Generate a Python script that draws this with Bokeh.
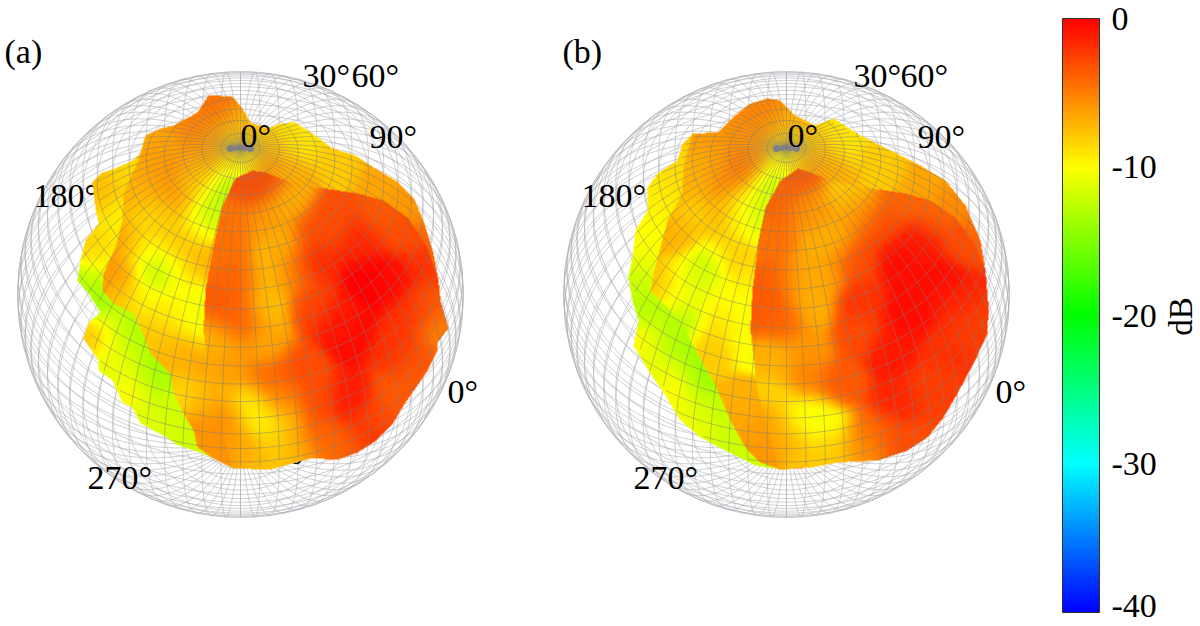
import numpy as np
from bokeh.core.properties import value
from bokeh.embed import file_html
from bokeh.models import ColorBar, FixedTicker, LinearColorMapper
from bokeh.plotting import figure
from bokeh.resources import INLINE

# colour scale
db_ticks = [0, -10, -20, -30, -40]
db_labels = ["0", "-10", "-20", "-30", "-40"]

# sphere centres and radius
a_center = (240, 294)
b_center = (786, 294)
radius = 223

# panel (a): outline of the whole pattern
a_outer_x = [208, 232, 242, 250, 267, 280, 295, 312, 332, 355, 373, 395, 413, 423, 433, 438, 440, 448, 437, 437, 427, 417, 403, 393, 373, 357, 338, 310, 278, 270, 233, 213, 200, 178, 163, 140, 132, 122, 112, 98, 98, 83, 88, 100, 88, 77, 80, 85, 98, 95, 92, 100, 117, 132, 140, 145, 160, 173, 197]
a_outer_y = [95, 96, 108, 122, 128, 123, 122, 133, 148, 155, 167, 180, 197, 220, 253, 280, 300, 328, 342, 350, 370, 385, 405, 422, 442, 452, 459, 458, 462, 469, 468, 458, 452, 445, 435, 423, 407, 402, 380, 370, 360, 338, 322, 312, 293, 280, 260, 240, 223, 207, 182, 173, 167, 160, 152, 135, 128, 125, 112]
a_outer_px = [220, 180, 160, 130, 100, 117, 100, 110, 93, 95, 87, 108, 125, 133, 130, 150, 160, 167, 177, 157, 130, 120, 110, 300, 340, 380, 410, 425, 240, 270]
a_outer_py = [105, 135, 140, 170, 193, 217, 250, 257, 283, 300, 337, 335, 330, 333, 323, 370, 367, 407, 427, 427, 385, 360, 365, 135, 160, 180, 205, 240, 125, 150]
a_outer_db = [-4.5, -6, -8, -8.5, -7.5, -9.5, -8, -10, -12.5, -14, -7.5, -9, -12, -14, -13, -13, -14, -12, -12, -11, -10, -11, -11, -9, -8, -6.5, -6, -4, -7, -8]

# panel (a): the lobes in front of the outer strip
a_inner_x = [145, 138, 123, 122, 115, 103, 102, 113, 133, 142, 150, 170, 173, 183, 193, 197, 213, 233, 270, 278, 310, 338, 357, 373, 393, 403, 417, 427, 437, 437, 448, 440, 438, 433, 423, 413, 395, 373, 355, 332, 312, 295, 280, 267, 250, 242, 232, 208, 197, 173, 160]
a_inner_y = [135, 160, 193, 220, 247, 273, 290, 303, 313, 333, 353, 373, 393, 413, 430, 447, 458, 468, 469, 462, 458, 459, 452, 442, 422, 405, 385, 370, 350, 342, 328, 300, 280, 253, 220, 197, 180, 167, 155, 148, 133, 122, 123, 128, 122, 108, 96, 95, 112, 125, 128]
a_inner_px = [215, 190, 165, 150, 163, 197, 130, 147, 123, 113, 147, 147, 160, 147, 123, 177, 167, 197, 213, 223, 240, 203, 180, 180, 190, 167, 203, 183, 197, 207, 167, 145, 183, 210, 217, 203, 180, 240, 210, 240, 270, 263, 287, 297, 300, 340, 380, 410, 425, 225, 200, 190]
a_inner_py = [105, 125, 140, 160, 170, 170, 193, 183, 240, 277, 217, 250, 273, 297, 297, 193, 223, 183, 213, 190, 165, 223, 243, 273, 300, 310, 260, 317, 317, 333, 340, 330, 387, 400, 427, 440, 360, 125, 140, 147, 150, 167, 183, 207, 135, 160, 180, 205, 240, 150, 360, 350]
a_inner_db = [-4.5, -5, -6.5, -6.5, -5.5, -6, -7, -7, -6.5, -6, -8.5, -10, -13, -10, -8, -6, -8, -9, -13, -13, -11, -10, -8, -9, -10.5, -9, -7, -9.5, -11, -10.5, -7.5, -8, -8.5, -7, -5.5, -6, -7, -7, -6, -9, -8, -5, -7, -6, -9, -8, -6.5, -6, -4, -7, -6, -7]

# panel (a): main dome under the pole
a_dome_x = [252, 235, 222, 214, 205, 203, 210, 232, 270, 310, 338, 357, 373, 393, 403, 417, 427, 437, 437, 448, 440, 438, 427, 407, 383, 357, 317, 285, 265]
a_dome_y = [170, 178, 205, 240, 290, 330, 390, 468, 469, 458, 459, 452, 442, 422, 405, 385, 370, 350, 342, 328, 300, 280, 247, 217, 200, 193, 187, 180, 172]
a_dome_px = [250, 260, 230, 220, 267, 280, 287, 313, 313, 293, 270, 237, 227, 267, 313, 240, 217, 267, 233, 267, 300, 350, 333, 317, 350, 367, 250, 263, 283, 243, 250, 277, 300, 333, 317, 283, 380, 410, 425, 430, 440, 360, 370, 395, 415, 395, 415, 395, 375, 345, 335, 225, 230, 215]
a_dome_py = [183, 183, 217, 243, 217, 243, 203, 230, 263, 270, 273, 277, 310, 307, 307, 320, 340, 343, 367, 380, 367, 333, 317, 400, 400, 433, 403, 423, 423, 443, 463, 447, 450, 450, 433, 400, 215, 235, 265, 300, 325, 240, 280, 280, 310, 350, 365, 395, 420, 450, 220, 420, 450, 390]
a_dome_db = [-3, -3, -4.5, -4.5, -6, -7, -7, -3, -1.5, -5, -7.5, -4, -3.5, -7.5, -3, -4, -7, -6.5, -6, -4, -3, -0.5, -1, -3, -1, -2, -9.5, -10.5, -7.5, -6.5, -7.5, -8, -7, -4.5, -3.5, -5, -3.5, -3, -2, -3.5, -5, -1.5, 0, -0.5, -2, -2, -3.5, -3.5, -3, -3.5, -3, -5.5, -6, -7]

# panel (b): outline of the whole pattern
b_outer_x = [767, 780, 795, 815, 833, 860, 890, 920, 945, 965, 980, 985, 988, 987, 973, 957, 943, 927, 907, 877, 837, 810, 780, 755, 725, 700, 680, 665, 648, 633, 638, 632, 628, 633, 635, 647, 647, 657, 677, 682, 692, 717, 732, 750]
b_outer_y = [98, 100, 115, 125, 118, 135, 150, 165, 180, 205, 240, 270, 307, 333, 363, 393, 417, 437, 450, 460, 462, 467, 469, 465, 450, 437, 420, 395, 370, 345, 320, 300, 277, 250, 230, 210, 187, 173, 160, 143, 133, 132, 117, 103]
b_outer_px = [765, 725, 700, 675, 665, 652, 645, 655, 642, 645, 640, 670, 680, 682, 700, 710, 730, 675, 700, 655, 845, 885, 925, 955, 970, 785, 815]
b_outer_py = [110, 130, 140, 170, 177, 193, 233, 260, 283, 307, 340, 335, 340, 323, 373, 413, 437, 385, 420, 365, 135, 160, 180, 205, 240, 125, 150]
b_outer_db = [-5, -6, -8, -8.5, -9, -9.5, -10, -10.5, -12, -13, -10, -12, -14, -13, -14, -13, -12, -10, -10, -11, -9, -8, -6.5, -5.5, -4, -6.5, -8]

b_inner_x = [692, 683, 682, 667, 660, 653, 650, 665, 680, 695, 715, 730, 745, 760, 780, 810, 837, 877, 907, 927, 943, 957, 973, 987, 988, 985, 980, 965, 945, 920, 890, 860, 833, 815, 795, 780, 767, 750, 732, 717]
b_inner_y = [133, 167, 193, 220, 247, 273, 290, 305, 320, 350, 385, 420, 447, 462, 469, 467, 462, 460, 450, 437, 417, 393, 363, 333, 307, 270, 240, 205, 180, 165, 150, 135, 118, 125, 115, 100, 98, 103, 117, 132]
b_inner_px = [765, 740, 715, 742, 708, 675, 692, 675, 658, 695, 708, 698, 685, 675, 715, 725, 718, 742, 758, 768, 787, 745, 725, 735, 745, 738, 723, 747, 760, 707, 682, 743, 750, 785, 755, 787, 815, 808, 825, 845, 885, 925, 955, 970]
b_inner_py = [110, 125, 145, 167, 167, 233, 183, 233, 280, 217, 263, 280, 273, 297, 293, 183, 213, 203, 213, 187, 165, 223, 247, 263, 283, 303, 317, 330, 333, 343, 323, 413, 427, 125, 145, 147, 150, 167, 177, 135, 160, 180, 205, 240]
b_inner_db = [-5, -5.5, -6, -4.5, -7, -7, -7, -7, -7.5, -8.5, -13, -12, -10, -10, -10, -5, -7, -9.5, -12.5, -12, -11, -10, -8, -8, -9.5, -10.5, -9, -10, -10.5, -8, -13, -7, -6, -7, -6, -9, -8, -5, -7, -9, -8, -6.5, -5.5, -4]

b_dome_x = [798, 780, 765, 758, 752, 750, 757, 778, 810, 837, 877, 907, 927, 943, 957, 973, 987, 988, 985, 975, 955, 930, 905, 865, 830, 810]
b_dome_y = [168, 180, 207, 240, 290, 330, 390, 468, 467, 462, 460, 450, 437, 417, 393, 363, 333, 307, 270, 245, 217, 200, 193, 187, 180, 172]
b_dome_px = [802, 782, 765, 812, 832, 822, 798, 778, 768, 812, 855, 858, 845, 858, 783, 773, 807, 807, 840, 890, 907, 857, 897, 773, 803, 823, 787, 767, 797, 830, 863, 877, 907, 920, 900, 940, 960, 975, 965, 935, 905, 880, 945, 930, 765, 775]
b_dome_py = [173, 200, 243, 210, 243, 277, 277, 277, 307, 307, 260, 303, 190, 210, 320, 360, 350, 380, 383, 350, 317, 333, 400, 397, 413, 423, 433, 453, 457, 447, 443, 433, 440, 240, 260, 280, 300, 320, 240, 215, 200, 225, 350, 390, 420, 445]
b_dome_db = [-3.5, -4, -4.5, -6, -7, -6.5, -7, -3.5, -3.5, -7, -3, -2, -8, -6, -4, -7, -6, -5, -3.5, -1, -0.5, -3, -1.5, -8.5, -10.5, -10.5, -8, -6, -8, -8, -6, -3.5, -3, -1, -0.5, -0.5, -1.5, -2.5, -3, -4, -4, -3, -2, -2.5, -6, -6]

# angle labels, (a) then (b)
label_text = ["(a)", "30°", "60°", "90°", "180°", "0°", "270°", "90°", "(b)", "30°", "60°", "90°", "180°", "0°", "270°"]
label_x = [4, 302, 351, 369, 33, 447, 87, 270, 562, 853, 900, 917, 581, 995, 633]
label_y = [51, 75, 75, 136, 195, 391, 477, 452, 51, 75, 75, 136, 195, 391, 477]
pole_label_x = [240, 787]


def jet_palette():
    stops = [(0, 0, 255), (0, 255, 255), (0, 255, 0), (255, 255, 0), (255, 0, 0)]
    colors = []
    for i in range(256):
        t = i / 255 * 4
        k = min(int(t), 3)
        f = t - k
        c = [round(stops[k][j] + (stops[k + 1][j] - stops[k][j]) * f) for j in range(3)]
        colors.append("#%02x%02x%02x" % tuple(c))
    return colors


def inside(xx, yy, px, py):
    px = np.array(px, dtype=float)
    py = np.array(py, dtype=float)
    mask = np.zeros(np.shape(xx), dtype=bool)
    for i in range(len(px)):
        j = i - 1
        hit = (py[i] > yy) != (py[j] > yy)
        cross = (px[j] - px[i]) * (yy - py[i]) / (py[j] - py[i] + 1e-9) + px[i]
        mask ^= hit & (xx < cross)
    return mask


def field(xx, yy, px, py, db, sigma=19.0):
    top = np.zeros_like(xx)
    bottom = np.zeros_like(xx) + 1e-30
    for x0, y0, v in zip(px, py, db):
        w = np.exp(-((xx - x0) ** 2 + (yy - y0) ** 2) / sigma**2)
        top += w * v
        bottom += w
    return top / bottom


def project(center, r, theta, phi):
    # view tilted so that the pole sits at 0.66 of the radius
    c, s = 0.66, 0.751
    ex = np.sin(theta) * np.cos(phi)
    ey = np.sin(theta) * np.sin(phi)
    ez = np.cos(theta)
    return center[0] + r * ex, center[1] - r * (ez * c + ey * s), ez * s - ey * c


def wire_lines(center, r, step):
    xs, ys = [], []
    for t in np.arange(step, 180, step):
        x, y, _ = project(center, r, np.radians(t), np.radians(np.arange(0, 361, 3)))
        xs.append(x)
        ys.append(y)
    for f in np.arange(0, 360, step):
        x, y, _ = project(center, r, np.radians(np.arange(0, 181, 3)), np.radians(f))
        xs.append(x)
        ys.append(y)
    return xs, ys


def mesh_lines(center, r, outline_x, outline_y):
    xs, ys = [], []
    for t in np.arange(5, 135, 5):
        x, y, d = project(center, r, np.radians(t), np.radians(np.arange(0, 361, 2.0)))
        keep = inside(x, y, outline_x, outline_y) & (d > 0)
        xs.append(np.where(keep, x, np.nan))
        ys.append(np.where(keep, y, np.nan))
    for f in np.arange(0, 360, 5):
        x, y, d = project(center, r, np.radians(np.arange(0, 135, 2.0)), np.radians(f))
        keep = inside(x, y, outline_x, outline_y) & (d > 0)
        xs.append(np.where(keep, x, np.nan))
        ys.append(np.where(keep, y, np.nan))
    return xs, ys


def surface(center, layers):
    x0, y0 = center[0] - 230, center[1] - 230
    cols = np.arange(x0, x0 + 460) + 0.5
    rows = np.arange(y0, y0 + 460) + 0.5
    xx, yy = np.meshgrid(cols, rows)
    out = np.full(xx.shape, np.nan)
    for lx, ly, px, py, db in layers:
        mask = inside(xx, yy, lx, ly)
        out[mask] = field(xx[mask], yy[mask], px, py, db)
    return out, x0, y0


p = figure(width=1200, height=626, x_range=(0, 1200), y_range=(626, 0), output_backend="svg",
           toolbar_location=None, min_border=0, outline_line_color=None)
p.axis.visible = False
p.grid.visible = False

mapper = LinearColorMapper(palette=jet_palette(), low=-40, high=0, nan_color="rgba(0,0,0,0)")

panels = [
    (a_center, [(a_outer_x, a_outer_y, a_outer_px, a_outer_py, a_outer_db),
                (a_inner_x, a_inner_y, a_inner_px, a_inner_py, a_inner_db),
                (a_dome_x, a_dome_y, a_dome_px, a_dome_py, a_dome_db)]),
    (b_center, [(b_outer_x, b_outer_y, b_outer_px, b_outer_py, b_outer_db),
                (b_inner_x, b_inner_y, b_inner_px, b_inner_py, b_inner_db),
                (b_dome_x, b_dome_y, b_dome_px, b_dome_py, b_dome_db)]),
]

serif = value("Liberation Serif")

for center, _ in panels:
    xs, ys = wire_lines(center, radius, 5)
    p.multi_line(xs, ys, line_color="#acacb4", line_width=0.7, line_alpha=0.8)

p.text(label_x, label_y, text=label_text, text_font=serif, text_font_size="34px",
       text_baseline="middle", text_color="black")

for center, layers in panels:
    img, x0, y0 = surface(center, layers)
    p.image(image=[img], x=x0, y=y0, dw=460, dh=460, color_mapper=mapper)
    xs, ys = mesh_lines(center, radius, layers[0][0], layers[0][1])
    p.multi_line(xs, ys, line_color="#7c7c7c", line_width=0.8, line_alpha=0.6)
    # feed at the pole
    fx = center[0]
    fy = center[1] - 146
    p.scatter([fx - 10, fx - 4, fx + 4, fx + 10], [fy] * 4, size=[7, 5, 5, 7], color="#808088", line_color=None)

for x in pole_label_x:
    p.text([x], [135], text=["0°"], text_font=serif, text_font_size="34px", text_baseline="middle",
           text_color="black")

# colour bar, its ticks and labels are drawn by hand so that -40 can stay on the page
bar_left, bar_right, bar_top, bar_bottom = 1062, 1099, 18, 612
bar = ColorBar(color_mapper=mapper, ticker=FixedTicker(ticks=[]), location=(bar_left, 626 - bar_bottom),
               width=bar_right - bar_left, height=bar_bottom - bar_top, padding=0, margin=0,
               bar_line_color="#303030", bar_line_width=1, background_fill_color=None)
p.add_layout(bar)

tick_y = [bar_top + (bar_bottom - bar_top) * t / -40 for t in db_ticks]
p.segment([bar_right - 7] * 3, tick_y[1:4], [bar_right] * 3, tick_y[1:4], line_color="black", line_width=1)
p.text([1111] * 5, [min(y, 605) for y in tick_y], text=db_labels, text_font=serif, text_font_size="34px",
       text_baseline="middle", text_color="black")

p.text([1180], [316], text=["dB"], text_font=serif, text_font_size="33px", angle=np.pi / 2,
       text_align="center", text_baseline="middle", text_color="black")

open("out.html", "w").write(file_html(p, INLINE))
